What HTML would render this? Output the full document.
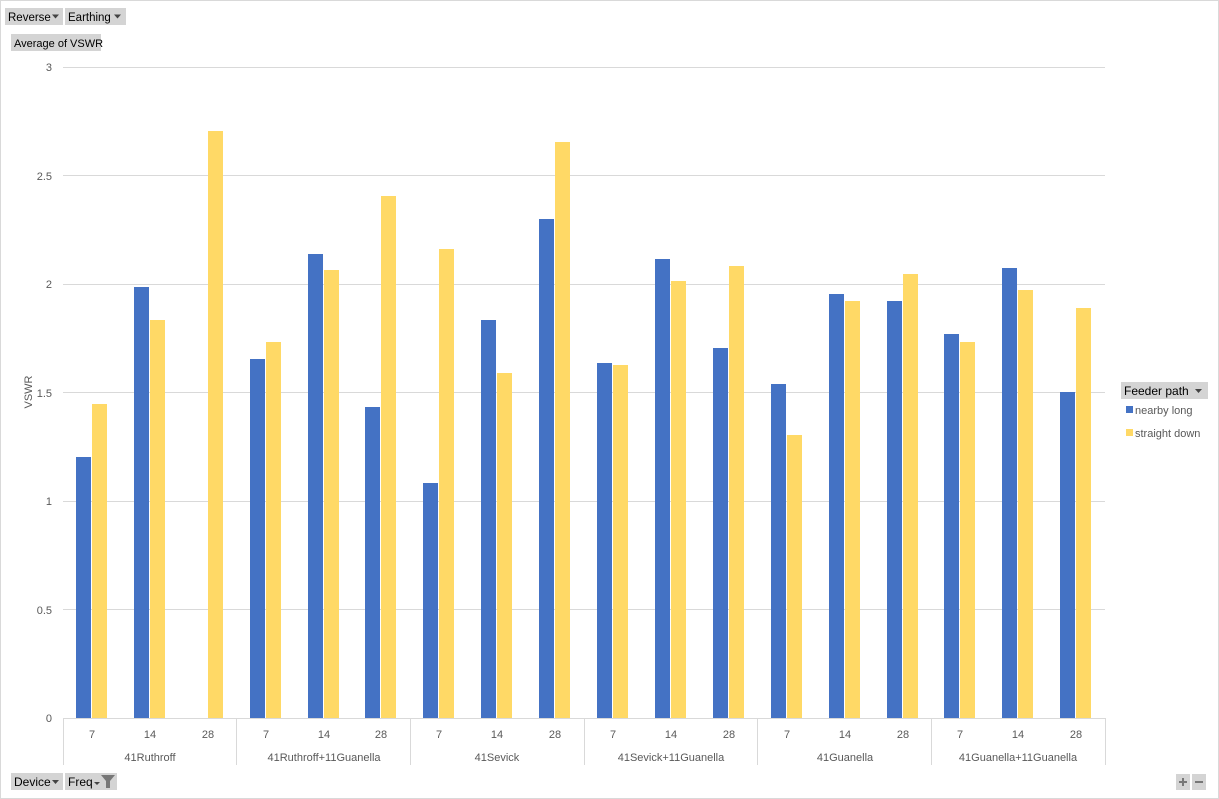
<!DOCTYPE html>
<html><head><meta charset="utf-8"><style>
body{margin:0;background:#fff;}
svg{display:block;font-family:"Liberation Sans",sans-serif;}
</style></head><body>
<svg width="1219" height="799" viewBox="0 0 1219 799">
<rect x="0.5" y="0.5" width="1218" height="798" fill="#fff" stroke="#d9d9d9"/>
<rect x="5" y="8" width="58" height="17" fill="#d4d4d4"/>
<text x="8" y="21" font-size="11.5" fill="#000">Reverse</text>
<path d="M52 14.5h7l-3.5 4z" fill="#444"/>
<rect x="65" y="8" width="61" height="17" fill="#d4d4d4"/>
<text x="68" y="21" font-size="11.5" fill="#000">Earthing</text>
<path d="M114 14.5h7l-3.5 4z" fill="#444"/>
<rect x="11" y="34" width="90" height="17" fill="#d4d4d4"/>
<text x="14" y="47" font-size="11" fill="#000">Average of VSWR</text>
<g stroke="#d9d9d9" stroke-width="1">
<line x1="63" x2="1105" y1="67.5" y2="67.5"/>
<line x1="63" x2="1105" y1="175.5" y2="175.5"/>
<line x1="63" x2="1105" y1="284.5" y2="284.5"/>
<line x1="63" x2="1105" y1="392.5" y2="392.5"/>
<line x1="63" x2="1105" y1="501.5" y2="501.5"/>
<line x1="63" x2="1105" y1="609.5" y2="609.5"/>
<line x1="63" x2="1105" y1="718.5" y2="718.5"/>
<line x1="63.5" x2="63.5" y1="718" y2="765"/>
<line x1="236.5" x2="236.5" y1="718" y2="765"/>
<line x1="410.5" x2="410.5" y1="718" y2="765"/>
<line x1="584.5" x2="584.5" y1="718" y2="765"/>
<line x1="757.5" x2="757.5" y1="718" y2="765"/>
<line x1="931.5" x2="931.5" y1="718" y2="765"/>
<line x1="1105.5" x2="1105.5" y1="718" y2="765"/>
</g>
<g font-size="11" fill="#595959" text-anchor="end">
<text x="52" y="71">3</text>
<text x="52" y="180">2.5</text>
<text x="52" y="288">2</text>
<text x="52" y="397">1.5</text>
<text x="52" y="505">1</text>
<text x="52" y="614">0.5</text>
<text x="52" y="722">0</text>
</g>
<text transform="translate(32,392) rotate(-90)" font-size="11" fill="#595959" text-anchor="middle">VSWR</text>
<g fill="#4472c4">
<rect x="76" y="457" width="15" height="261"/>
<rect x="134" y="287" width="15" height="431"/>
<rect x="250" y="359" width="15" height="359"/>
<rect x="308" y="254" width="15" height="464"/>
<rect x="365" y="407" width="15" height="311"/>
<rect x="423" y="483" width="15" height="235"/>
<rect x="481" y="320" width="15" height="398"/>
<rect x="539" y="219" width="15" height="499"/>
<rect x="597" y="363" width="15" height="355"/>
<rect x="655" y="259" width="15" height="459"/>
<rect x="713" y="348" width="15" height="370"/>
<rect x="771" y="384" width="15" height="334"/>
<rect x="829" y="294" width="15" height="424"/>
<rect x="887" y="301" width="15" height="417"/>
<rect x="944" y="334" width="15" height="384"/>
<rect x="1002" y="268" width="15" height="450"/>
<rect x="1060" y="392" width="15" height="326"/>
</g>
<g fill="#ffd966">
<rect x="92" y="404" width="15" height="314"/>
<rect x="150" y="320" width="15" height="398"/>
<rect x="208" y="131" width="15" height="587"/>
<rect x="266" y="342" width="15" height="376"/>
<rect x="324" y="270" width="15" height="448"/>
<rect x="381" y="196" width="15" height="522"/>
<rect x="439" y="249" width="15" height="469"/>
<rect x="497" y="373" width="15" height="345"/>
<rect x="555" y="142" width="15" height="576"/>
<rect x="613" y="365" width="15" height="353"/>
<rect x="671" y="281" width="15" height="437"/>
<rect x="729" y="266" width="15" height="452"/>
<rect x="787" y="435" width="15" height="283"/>
<rect x="845" y="301" width="15" height="417"/>
<rect x="903" y="274" width="15" height="444"/>
<rect x="960" y="342" width="15" height="376"/>
<rect x="1018" y="290" width="15" height="428"/>
<rect x="1076" y="308" width="15" height="410"/>
</g>
<g font-size="11" fill="#595959" text-anchor="middle">
<text x="92" y="738">7</text><text x="150" y="738">14</text><text x="208" y="738">28</text>
<text x="266" y="738">7</text><text x="324" y="738">14</text><text x="381" y="738">28</text>
<text x="439" y="738">7</text><text x="497" y="738">14</text><text x="555" y="738">28</text>
<text x="613" y="738">7</text><text x="671" y="738">14</text><text x="729" y="738">28</text>
<text x="787" y="738">7</text><text x="845" y="738">14</text><text x="903" y="738">28</text>
<text x="960" y="738">7</text><text x="1018" y="738">14</text><text x="1076" y="738">28</text>
<text x="150" y="761">41Ruthroff</text>
<text x="324" y="761">41Ruthroff+11Guanella</text>
<text x="497" y="761">41Sevick</text>
<text x="671" y="761">41Sevick+11Guanella</text>
<text x="845" y="761">41Guanella</text>
<text x="1018" y="761">41Guanella+11Guanella</text>
</g>
<rect x="1121" y="382" width="87" height="17" fill="#d4d4d4"/>
<text x="1124" y="395" font-size="12" fill="#000">Feeder path</text>
<path d="M1195 389h7l-3.5 4z" fill="#444"/>
<rect x="1126" y="406" width="7" height="7" fill="#4472c4"/>
<text x="1135" y="414" font-size="11" fill="#595959">nearby long</text>
<rect x="1126" y="429" width="7" height="7" fill="#ffd966"/>
<text x="1135" y="437" font-size="11" fill="#595959">straight down</text>
<rect x="11" y="773" width="52" height="17" fill="#d4d4d4"/>
<text x="14" y="786" font-size="12" fill="#000">Device</text>
<path d="M52 780h7l-3.5 4z" fill="#444"/>
<rect x="65" y="773" width="52" height="17" fill="#d4d4d4"/>
<text x="68" y="786" font-size="12" fill="#000">Freq</text>
<path d="M94 782h6l-3 3z" fill="#444"/>
<path d="M101 775h14l-5 6v7h-4v-7z" fill="#777"/>
<rect x="1176" y="774" width="14" height="16" fill="#d4d4d4"/>
<rect x="1192" y="774" width="14" height="16" fill="#d4d4d4"/>
<path d="M1179 782h8M1183 778v8M1195 782h8" stroke="#777" stroke-width="2"/>
</svg>
</body></html>
